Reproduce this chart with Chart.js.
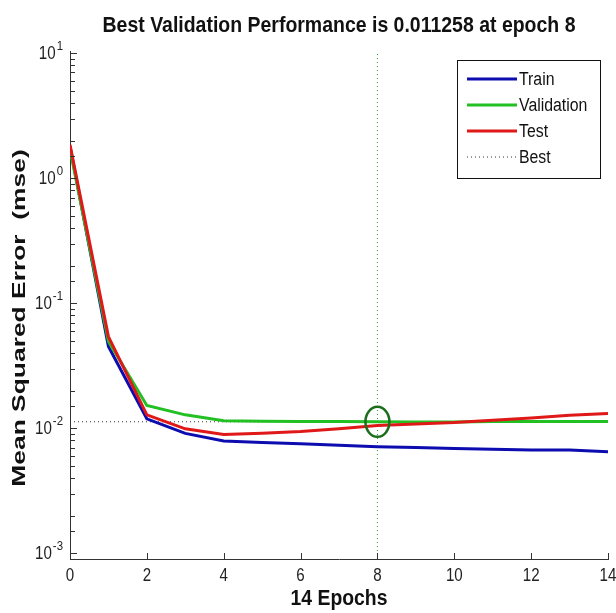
<!DOCTYPE html>
<html>
<head>
<meta charset="utf-8">
<script src="https://cdn.jsdelivr.net/npm/chart.js@4.4.1/dist/chart.umd.min.js"></script>
<style>
  html, body { margin: 0; padding: 0; background: #ffffff; }
  #wrap { width: 616px; height: 613px; position: relative; }
</style>
</head>
<body>
<div id="wrap"><canvas id="c" width="616" height="613"></canvas></div>
<script>
const epochs = [0, 1, 2, 3, 4, 5, 6, 7, 8, 9, 10, 11, 12, 13, 14];
const train = [1.80, 0.045, 0.0119, 0.0091, 0.0079, 0.0077, 0.0075, 0.0073, 0.0071, 0.0070, 0.0069, 0.0068, 0.0067, 0.0067, 0.0065];
const validation = [1.70, 0.0495, 0.0152, 0.0128, 0.0115, 0.0114, 0.0113, 0.0113, 0.011258, 0.0112, 0.0112, 0.0113, 0.0113, 0.0113, 0.0113];
const test = [1.85, 0.054, 0.0128, 0.0099, 0.0089, 0.0091, 0.0094, 0.0099, 0.0105, 0.0108, 0.0111, 0.0116, 0.0121, 0.0127, 0.0131];
const seriesLabels = ['Train', 'Validation', 'Test', 'Best'];
const bestEpoch = 8;
const bestPerf = 0.011258;
const xTicks = [0, 2, 4, 6, 8, 10, 12, 14];
const yDecades = [0.001, 0.01, 0.1, 1, 10];
const yMin = 0.0009, yMax = 10.4;
const titleText = 'Best Validation Performance is ' + bestPerf + ' at epoch ' + bestEpoch;
const xTitle = (epochs.length - 1) + ' Epochs';
const yTitle = 'Mean Squared Error  (mse)';

const FONT = '"Liberation Sans", Arial, Helvetica, sans-serif';
const SQ = 0.88; // horizontal squeeze of the reference's text

function txt(ctx, s, x, y, font, o) {
  o = o || {};
  ctx.save();
  ctx.font = font;
  ctx.fillStyle = o.color || '#111111';
  ctx.textAlign = o.align || 'left';
  ctx.textBaseline = o.base || 'alphabetic';
  ctx.translate(x, y);
  if (o.rot) ctx.rotate(o.rot);
  ctx.scale(o.sx || 1, o.sy || 1);
  ctx.fillText(s, 0, 0);
  ctx.restore();
}
const pts = arr => epochs.map((e, i) => ({x: e, y: arr[i]}));
const isDecade = v => yDecades.some(d => Math.abs(d - v) / d < 1e-6);

const axesDecor = {
  id: 'axesDecor',
  afterDraw(chart) {
    const ctx = chart.ctx, xs = chart.scales.x, ys = chart.scales.y;
    const ca = chart.chartArea;
    ctx.save();
    ctx.strokeStyle = '#333333';
    ctx.lineWidth = 1;
    ctx.beginPath();
    xs.ticks.forEach(t => {
      const px = Math.round(xs.getPixelForValue(t.value)) + 0.5;
      ctx.moveTo(px, ca.bottom);
      ctx.lineTo(px, ca.bottom - 6);
    });
    ys.ticks.forEach(t => {
      if (t.value < 0.00099 || t.value > 10.01) return;
      const py = Math.round(ys.getPixelForValue(t.value)) + 0.5;
      ctx.moveTo(ca.left, py);
      ctx.lineTo(ca.left + (isDecade(t.value) ? 7 : 5), py);
    });
    ctx.stroke();
    ctx.restore();
    // x tick labels
    xs.ticks.forEach(t => {
      txt(ctx, String(t.value), xs.getPixelForValue(t.value), ca.bottom + 17,
          '18px ' + FONT, {align: 'center', base: 'middle', sx: 0.84, color: '#222222'});
    });
    // y tick labels (decades only) as 10 with a raised exponent
    ys.ticks.forEach(t => {
      if (!isDecade(t.value)) return;
      const e = Math.round(Math.log10(t.value));
      const py = ys.getPixelForValue(t.value);
      const es = String(e);
      ctx.save();
      ctx.font = '13px ' + FONT;
      const ew = ctx.measureText(es).width * SQ;
      ctx.restore();
      const right = ca.left - 7;
      txt(ctx, es, right, py - 3, '13px ' + FONT, {align: 'right', sx: SQ, color: '#222222'});
      txt(ctx, '10', right - ew - 1, py + 1, '18px ' + FONT, {align: 'right', base: 'middle', sx: 0.84, color: '#222222'});
    });
    // titles
    txt(ctx, titleText, (ca.left + ca.right) / 2, 32, 'bold 22px ' + FONT, {align: 'center', sx: 0.885});
    txt(ctx, xTitle, (ca.left + ca.right) / 2, 605, 'bold 22px ' + FONT, {align: 'center', sx: SQ});
    txt(ctx, yTitle, 20, 318, 'bold 24px ' + FONT, {align: 'center', base: 'middle', rot: -Math.PI / 2, sx: 1.1, sy: 0.8});
  }
};

const bestMarker = {
  id: 'bestMarker',
  afterDatasetsDraw(chart) {
    const ctx = chart.ctx, xs = chart.scales.x, ys = chart.scales.y;
    const cx = xs.getPixelForValue(bestEpoch), cy = ys.getPixelForValue(bestPerf);
    ctx.save();
    ctx.strokeStyle = '#1b6e1b';
    ctx.lineWidth = 2.5;
    ctx.beginPath();
    ctx.ellipse(cx, cy, 12, 15, 0, 0, Math.PI * 2);
    ctx.stroke();
    ctx.restore();
  }
};

const boxLegend = {
  id: 'boxLegend',
  afterDraw(chart) {
    const ctx = chart.ctx;
    const items = chart.data.datasets.filter(d => d.label);
    const x0 = 457, y0 = 60, w = 143, rowH = 26, h = 118;
    ctx.save();
    ctx.fillStyle = '#ffffff';
    ctx.fillRect(x0, y0, w, h);
    ctx.strokeStyle = '#111111';
    ctx.lineWidth = 1;
    ctx.strokeRect(x0 + 0.5, y0 + 0.5, w, h);
    items.forEach((d, i) => {
      const y = y0 + 19 + i * rowH;
      ctx.save();
      ctx.strokeStyle = d.borderColor;
      ctx.lineWidth = d.borderDash ? 1 : 3;
      ctx.setLineDash(d.borderDash || []);
      ctx.beginPath();
      ctx.moveTo(467, y);
      ctx.lineTo(517, y);
      ctx.stroke();
      ctx.restore();
      txt(ctx, d.label, 519, y + 1, '18px ' + FONT, {base: 'middle', sx: SQ});
    });
    ctx.restore();
  }
};

new Chart(document.getElementById('c'), {
  type: 'line',
  data: {
    datasets: [
      { label: seriesLabels[0], data: pts(train), borderColor: '#0c0cb0', borderWidth: 3, pointRadius: 0, order: 3 },
      { label: seriesLabels[1], data: pts(validation), borderColor: '#22c022', borderWidth: 3, pointRadius: 0, order: 2 },
      { label: seriesLabels[2], data: pts(test), borderColor: '#e01818', borderWidth: 3, pointRadius: 0, order: 1 },
      { label: seriesLabels[3], data: [{x: 0, y: bestPerf}, {x: bestEpoch, y: bestPerf}],
        borderColor: '#333333', borderWidth: 1, borderDash: [1, 3], pointRadius: 0, order: 4 },
      { data: [{x: bestEpoch, y: yMin}, {x: bestEpoch, y: yMax}],
        borderColor: '#2a9e2a', borderWidth: 1, borderDash: [1, 3], pointRadius: 0, order: 5 }
    ]
  },
  options: {
    responsive: false,
    animation: false,
    events: [],
    layout: { padding: { top: 51, left: 0, right: 8, bottom: 0 } },
    plugins: {
      legend: { display: false },
      tooltip: { enabled: false },
      title: { display: false }
    },
    scales: {
      x: {
        type: 'linear', min: 0, max: 14,
        afterFit(s) { s.height = 54; },
        afterBuildTicks(s) { s.ticks = xTicks.map(v => ({value: v})); },
        grid: { drawOnChartArea: false, drawTicks: false },
        border: { display: true, color: '#333333', width: 1 },
        ticks: { display: false }
      },
      y: {
        type: 'logarithmic', min: yMin, max: yMax,
        afterFit(s) { s.width = 70; },
        grid: { drawOnChartArea: false, drawTicks: false },
        border: { display: true, color: '#333333', width: 1 },
        ticks: { display: false, autoSkip: false }
      }
    }
  },
  plugins: [axesDecor, bestMarker, boxLegend]
});
</script>
</body>
</html>
